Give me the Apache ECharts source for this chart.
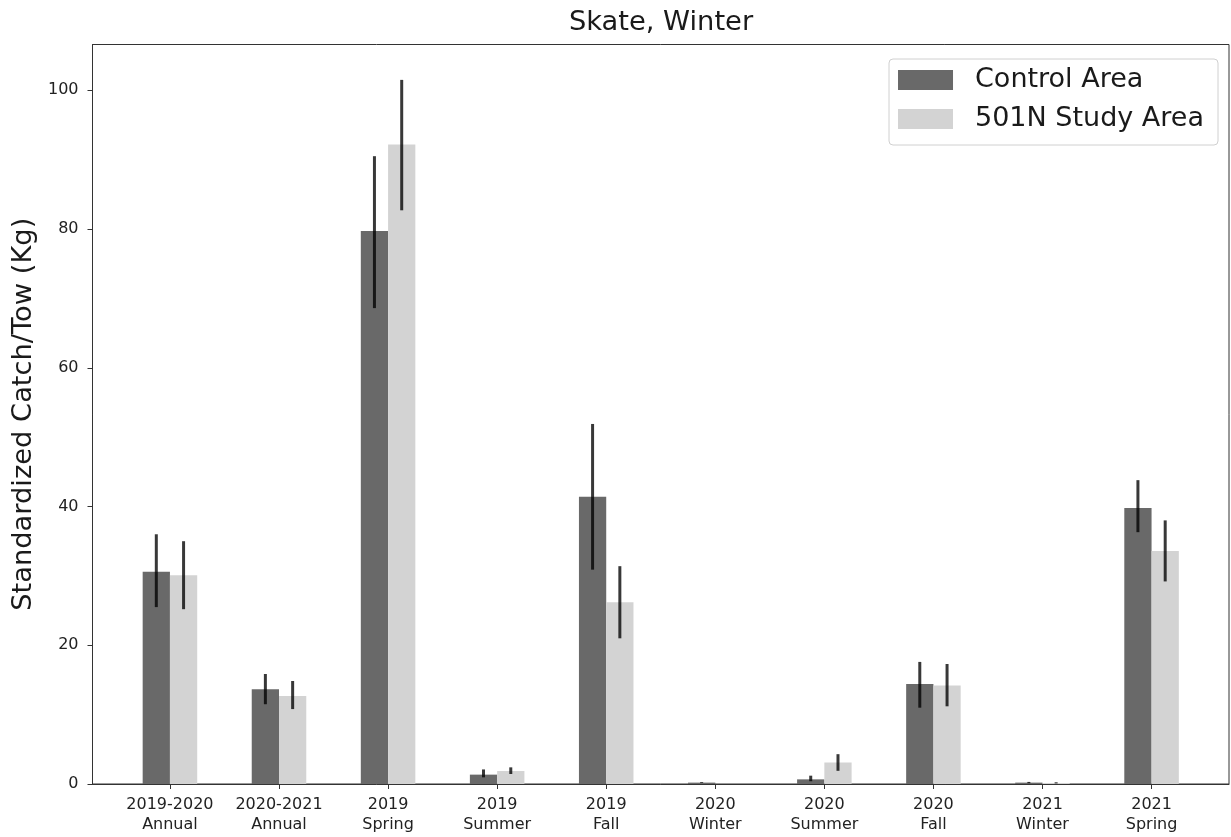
<!DOCTYPE html>
<html>
<head>
<meta charset="utf-8">
<script src="https://cdn.jsdelivr.net/npm/echarts@6/dist/echarts.min.js"></script>
<style>
html,body{margin:0;padding:0;background:#fff;}
#chart{width:1231px;height:837px;}
</style>
</head>
<body>
<div id="chart"></div>
<script>
const titleText = 'Skate, Winter';
const yAxisName = 'Standardized Catch/Tow (Kg)';
const seriesNames = ['Control Area', '501N Study Area'];
const catTop = ['2019-2020','2020-2021','2019','2019','2019','2020','2020','2020','2021','2021'];
const catBottom = ['Annual','Annual','Spring','Summer','Fall','Winter','Summer','Fall','Winter','Spring'];
const control   = [30.6, 13.65, 79.7, 1.35, 41.4, 0.2, 0.67, 14.4, 0.2, 39.8];
const controlLo = [25.5, 11.5, 68.6, 0.96, 30.9, 0.15, 0.4, 11.0, 0.12, 36.3];
const controlHi = [36.0, 15.86, 90.5, 2.1, 51.9, 0.27, 1.2, 17.6, 0.3, 43.8];
const study     = [30.1, 12.7, 92.2, 1.87, 26.2, 0, 3.1, 14.2, 0.15, 33.6];
const studyLo   = [25.2, 10.8, 82.7, 1.44, 21.0, 0, 1.9, 11.2, 0.08, 29.2];
const studyHi   = [35.0, 14.85, 101.5, 2.4, 31.4, 0, 4.3, 17.3, 0.25, 38.0];
const yTicks = [0, 20, 40, 60, 80, 100];

const FONT = 'DejaVu Sans';
const BIG = 27.3;
const SMALL = 16;
const BAR_W = 0.25;

function makeData(vals, lo, hi) {
  return vals.map((v, i) => [i, v, lo[i], hi[i]]);
}

function barRenderer(offset) {
  return function (params, api) {
    const i = api.value(0), v = api.value(1), lo = api.value(2), hi = api.value(3);
    const x0 = i + offset, x1 = i + offset + BAR_W, xc = i + offset + BAR_W / 2;
    const pTop = api.coord([x0, v]);
    const pBot = api.coord([x1, 0]);
    const children = [];
    if (v > 0) {
      children.push({
        type: 'rect',
        shape: { x: pTop[0], y: pTop[1], width: pBot[0] - pTop[0], height: pBot[1] - pTop[1] },
        style: { fill: api.visual('color') }
      });
    }
    if (hi > lo) {
      const e1 = api.coord([xc, hi]);
      const e2 = api.coord([xc, lo]);
      children.push({
        type: 'line',
        shape: { x1: e1[0], y1: e1[1], x2: e2[0], y2: e2[1] },
        style: { stroke: 'rgba(0,0,0,0.78)', lineWidth: 3 }
      });
    }
    return { type: 'group', children: children };
  };
}

const chart = echarts.init(document.getElementById('chart'), null, { renderer: 'canvas' });
chart.setOption({
  backgroundColor: '#fff',
  animation: false,
  textStyle: { fontFamily: FONT },
  title: {
    text: titleText,
    left: 661,
    top: 9,
    padding: 0,
    textAlign: 'center',
    textStyle: { fontFamily: FONT, fontSize: BIG, fontWeight: 'normal', color: '#1a1a1a' }
  },
  legend: {
    data: seriesNames.map(n => ({ name: n, icon: 'rect' })),
    orient: 'vertical',
    right: 13,
    top: 59,
    padding: [7.5, 14, 12.5, 9],
    itemWidth: 55,
    itemHeight: 20,
    itemGap: 12,
    borderColor: '#d0d0d0',
    borderWidth: 1,
    borderRadius: 4,
    textStyle: { fontFamily: FONT, fontSize: 27, color: '#1a1a1a', padding: [0, 0, 0, 17], lineHeight: 20 }
  },
  grid: {
    left: 92.5, right: 2, top: 44.5, bottom: 53,
    show: true, borderColor: '#333', borderWidth: 1, backgroundColor: 'transparent'
  },
  xAxis: {
    type: 'value',
    min: -0.71,
    max: 9.71,
    splitLine: { show: false },
    axisLine: { show: true, onZero: false, lineStyle: { color: '#333', width: 1 } },
    axisTick: { show: true, length: 5, lineStyle: { color: '#333' }, customValues: catTop.map((c, i) => i) },
    axisLabel: {
      customValues: catTop.map((c, i) => i),
      formatter: v => { const i = Math.round(v); return catTop[i] + '\n' + catBottom[i]; },
      fontFamily: FONT, fontSize: SMALL, color: '#222', lineHeight: 20, margin: 11
    }
  },
  yAxis: {
    type: 'value',
    min: 0,
    max: 106.6,
    name: yAxisName,
    nameLocation: 'middle',
    nameGap: 54,
    nameTextStyle: { fontFamily: FONT, fontSize: BIG, color: '#1a1a1a' },
    splitLine: { show: false },
    axisLine: { show: true, onZero: false, lineStyle: { color: '#333', width: 1 } },
    axisTick: { show: true, length: 5, lineStyle: { color: '#333' }, customValues: yTicks },
    axisLabel: { customValues: yTicks, fontFamily: FONT, fontSize: SMALL, color: '#222', margin: 14 }
  },
  series: [
    {
      name: seriesNames[0],
      type: 'custom',
      renderItem: barRenderer(-BAR_W),
      itemStyle: { color: '#696969' },
      encode: { x: 0, y: [1, 2, 3] },
      data: makeData(control, controlLo, controlHi)
    },
    {
      name: seriesNames[1],
      type: 'custom',
      renderItem: barRenderer(0),
      itemStyle: { color: '#d3d3d3' },
      encode: { x: 0, y: [1, 2, 3] },
      data: makeData(study, studyLo, studyHi)
    }
  ]
});
</script>
</body>
</html>
